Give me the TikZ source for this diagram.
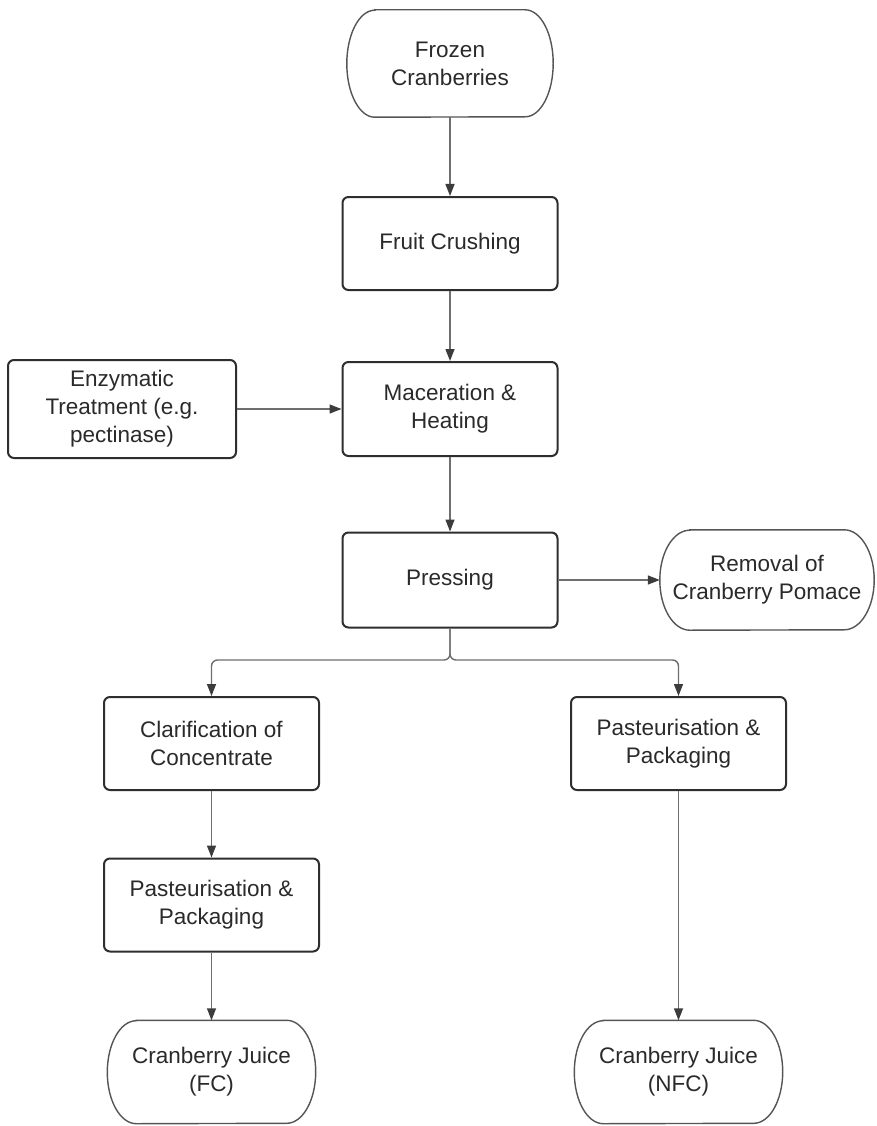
\documentclass[tikz,border=0pt]{standalone}
\usepackage{fontspec}
\setmainfont{Liberation Sans}
\usetikzlibrary{arrows.meta}
\definecolor{boxc}{HTML}{2E2E2E}
\definecolor{linec}{HTML}{6E6E6E}
\definecolor{tipc}{HTML}{3C3C3C}
\definecolor{termc}{HTML}{555555}
\definecolor{txtc}{HTML}{2A2A2A}
\newcommand{\termbox}[3]{\draw[termline] ([xshift=#2]#1.north west) -- ([xshift=-#2]#1.north east) arc[start angle=90,end angle=-90,x radius=#2,y radius=#3] -- ([xshift=#2]#1.south west) arc[start angle=270,end angle=90,x radius=#2,y radius=#3] -- cycle;}
\begin{document}
\begin{tikzpicture}[x=1pt,y=-1pt,
  txt/.style={font=\fontsize{22.5}{28}\selectfont, text=txtc, align=center, inner sep=0pt},
  proc/.style={txt, draw=boxc, line width=2pt, rounded corners=6pt, minimum width=215pt, minimum height=93pt},
  termline/.style={draw=termc, line width=1.4pt},
  flow/.style={draw=linec, line width=1.4pt, -{Triangle[length=12pt,width=9pt,fill=tipc,color=tipc]}}]
\useasboundingbox[fill=white] (0,0) rectangle (877,1126);

\node[txt, minimum width=206pt, minimum height=107pt] (froz) at (450,63.5) {Frozen\\Cranberries};
\termbox{froz}{28pt}{53.5pt}
\node[proc] (crush) at (450,243.5) {Fruit Crushing};
\node[proc, minimum height=94pt] (mac) at (450,409) {Maceration \&\\Heating};
\node[proc, minimum width=228pt, minimum height=98pt] (enz) at (122,409) {Enzymatic\\Treatment (e.g.\\pectinase)};
\node[proc, minimum height=95pt] (press) at (450,580) {Pressing};
\node[txt, minimum width=214pt, minimum height=100pt] (pom) at (767,580) {Removal of\\Cranberry Pomace};
\termbox{pom}{30pt}{50pt}
\node[proc] (clar) at (211.5,743.5) {Clarification of\\Concentrate};
\node[proc] (pastR) at (678.5,743.5) {Pasteurisation \&\\Packaging};
\node[proc] (pastL) at (211.5,905) {Pasteurisation \&\\Packaging};
\node[txt, minimum width=208pt, minimum height=103pt] (fc) at (211.5,1072) {Cranberry Juice\\(FC)};
\termbox{fc}{29pt}{51.5pt}
\node[txt, minimum width=208pt, minimum height=103pt] (nfc) at (678.5,1072) {Cranberry Juice\\(NFC)};
\termbox{nfc}{29pt}{51.5pt}

\coordinate (split) at (450,660);

\draw[flow] (froz.south) -- (crush.north);
\draw[flow] (crush.south) -- (mac.north);
\draw[flow] (enz.east) -- (mac.west);
\draw[flow] (mac.south) -- (press.north);
\draw[flow] (press.east) -- (pom.west);
\draw[flow, rounded corners=6pt] (press.south) -- (split) -| (clar.north);
\draw[flow, rounded corners=6pt] (press.south) -- (split) -| (pastR.north);
\draw[flow] (clar.south) -- (pastL.north);
\draw[flow] (pastL.south) -- (fc.north);
\draw[flow] (pastR.south) -- (nfc.north);
\end{tikzpicture}
\end{document}
